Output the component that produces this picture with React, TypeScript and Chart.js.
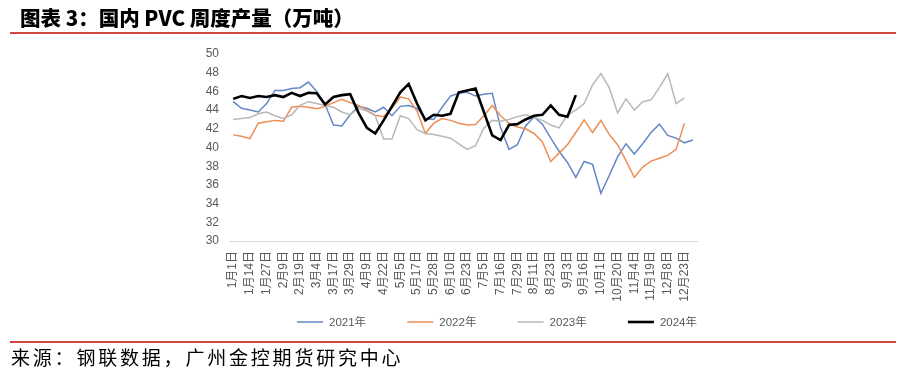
import React, { useEffect, useRef } from "react";
import { Chart, registerables } from "chart.js";

Chart.register(...registerables);

// ---------- data ----------
const tickLabels = [
  "1月1日", "1月14日", "1月27日", "2月9日", "2月19日", "3月4日", "3月17日",
  "3月29日", "4月9日", "4月22日", "5月5日", "5月17日", "5月28日", "6月10日",
  "6月23日", "7月5日", "7月16日", "7月29日", "8月11日", "8月23日", "9月3日",
  "9月16日", "10月1日", "10月20日", "11月4日", "11月19日", "12月8日", "12月23日",
];
// two weekly points per labelled date; only every other category carries a label
const categories: string[] = tickLabels.flatMap((l) => [l, ""]);

const seriesNames = ["2021年", "2022年", "2023年", "2024年"];

const output2021 = [
  44.9, 44.2, 44.0, 43.8, 44.7, 46.1, 46.1, 46.3, 46.4, 47.0,
  46.0, 44.6, 42.4, 42.3, 43.5, 44.4, 44.2, 43.8, 44.3, 43.4,
  44.4, 44.5, 44.2, 43.1, 43.0, 44.3, 45.5, 45.8, 45.9, 45.5,
  45.7, 45.8, 42.1, 39.8, 40.3, 42.3, 43.3, 42.5, 41.0, 39.6,
  38.4, 36.8, 38.5, 38.2, 35.1, 37.0, 39.0, 40.4, 39.3, 40.4,
  41.6, 42.5, 41.3, 41.0, 40.5, 40.8,
];

const output2022 = [
  41.35, 41.2, 40.95, 42.6, 42.75, 42.9, 42.8, 44.3, 44.4, 44.3,
  44.15, 44.4, 44.8, 45.15, 44.8, 44.5, 44.0, 43.45, 43.3, 44.2,
  45.4, 45.2, 43.9, 41.5, 42.6, 43.1, 42.9, 42.6, 42.4, 42.45,
  43.4, 44.5, 43.4, 42.6, 42.2, 42.0, 41.5, 40.6, 38.5, 39.4,
  40.3, 41.6, 42.95, 41.6, 42.9, 41.4, 40.3, 38.6, 36.8, 37.9,
  38.55, 38.85, 39.15, 39.8, 42.6, null,
];

const output2023 = [
  43.0, 43.1, 43.2, 43.6, 43.8, 43.4, 43.1, 43.5, 44.5, 44.9,
  44.7, 44.5, 44.3, 43.8, 43.5, 44.2, 43.9, 43.4, 40.9, 40.9,
  43.4, 43.1, 41.9, 41.5, 41.4, 41.2, 41.0, 40.4, 39.8, 40.2,
  42.1, 42.9, 42.8, 43.0, 43.3, 43.5, 43.2, 42.9, 42.4, 42.1,
  43.5, 44.0, 44.7, 46.7, 47.9, 46.4, 43.7, 45.2, 44.0, 44.9,
  45.1, 46.4, 47.9, 44.7, 45.3, null,
];

const output2024 = [
  45.2, 45.5, 45.3, 45.5, 45.4, 45.6, 45.4, 45.85, 45.5, 45.85,
  45.8, 44.6, 45.4, 45.6, 45.7, 43.7, 42.1, 41.5, 42.9, 44.4,
  45.9, 46.8, 44.7, 42.9, 43.5, 43.4, 43.6, 45.9, 46.1, 46.3,
  43.8, 41.3, 40.8, 42.4, 42.5, 43.0, 43.4, 43.5, 44.5, 43.5,
  43.3, 45.6,
];

const yMin = 30;
const yMax = 50;
const yStep = 2;

// ---------- styles ----------
const FONT = "'Liberation Sans', 'Noto Sans CJK SC', sans-serif";
const CJK = "'Noto Sans CJK SC', sans-serif";
const TEXT_GREY = "#595959";
const RED = "#d2463f";

const lineLegendPlugin = {
  id: "lineLegend",
  afterDraw(chart: any, _args: any, opts: any) {
    const { ctx } = chart;
    ctx.save();
    ctx.font = `${opts.fontSize}px ${FONT}`;
    ctx.textBaseline = "middle";
    ctx.textAlign = "left";
    chart.data.datasets.forEach((ds: any, i: number) => {
      const x = opts.x + i * opts.step;
      ctx.strokeStyle = ds.borderColor;
      ctx.lineWidth = ds.borderWidth;
      ctx.beginPath();
      ctx.moveTo(x, opts.y);
      ctx.lineTo(x + opts.lineLen, opts.y);
      ctx.stroke();
      ctx.fillStyle = TEXT_GREY;
      ctx.fillText(ds.label, x + opts.lineLen + opts.gap, opts.y + 0.5);
    });
    ctx.restore();
  },
};

export default function App() {
  const canvasRef = useRef<HTMLCanvasElement | null>(null);

  useEffect(() => {
    if (!canvasRef.current) return;
    Chart.defaults.font.family = FONT;
    const seriesData = [output2021, output2022, output2023, output2024];
    const colors = ["#6487c6", "#ee8d55", "#b8b8b8", "#000000"];
    const widths = [1.5, 1.5, 1.5, 2.6];
    const chart = new Chart(canvasRef.current, {
      type: "line",
      data: {
        labels: categories,
        datasets: seriesNames.map((name, i) => ({
          label: name,
          data: seriesData[i],
          borderColor: colors[i],
          backgroundColor: colors[i],
          borderWidth: widths[i],
          pointRadius: 0,
          tension: 0,
          fill: false,
          order: 3 - i,
        })),
      },
      options: {
        responsive: false,
        animation: false,
        events: [],
        layout: { padding: { left: 0, right: 904 - 697, top: 54, bottom: 374 - 241 - 70 } },
        plugins: {
          legend: { display: false },
          tooltip: { enabled: false },
          lineLegend: { x: 297, step: 110.3, y: 322, lineLen: 26, gap: 6, fontSize: 11.5 },
        } as any,
        scales: {
          x: {
            type: "category",
            offset: true,
            grid: { display: false, drawTicks: false },
            border: { display: true, color: "#d9d9d9", width: 1 },
            ticks: {
              autoSkip: false,
              maxRotation: 90,
              minRotation: 90,
              padding: 10,
              color: TEXT_GREY,
              font: { size: 12, family: FONT },
            },
            afterFit: (s: any) => {
              s.height = 70;
            },
          },
          y: {
            min: yMin,
            max: yMax,
            ticks: {
              stepSize: yStep,
              padding: 10,
              color: TEXT_GREY,
              font: { size: 12, family: FONT },
            },
            grid: { display: false, drawTicks: false },
            border: { display: false },
            afterFit: (s: any) => {
              s.width = 229;
            },
          },
        },
      },
      plugins: [lineLegendPlugin],
    });
    return () => chart.destroy();
  }, []);

  return (
    <div
      style={{
        position: "absolute",
        left: 0,
        top: 0,
        width: 904,
        height: 374,
        background: "#fff",
        overflow: "hidden",
      }}
    >
      <canvas
        ref={canvasRef}
        width={904}
        height={374}
        style={{ position: "absolute", left: 0, top: 0, width: 904, height: 374 }}
      />
      <div
        style={{
          position: "absolute",
          left: 20,
          top: 7,
          fontFamily: CJK,
          fontWeight: 900,
          fontSize: 20.5,
          lineHeight: "20px",
          color: "#000",
          whiteSpace: "nowrap",
        }}
      >
        图表 3：国内 PVC 周度产量（万吨）
      </div>
      <div style={{ position: "absolute", left: 10, top: 32, width: 886, height: 2, background: RED }} />
      <div style={{ position: "absolute", left: 10, top: 341, width: 886, height: 2, background: RED }} />
      <div
        style={{
          position: "absolute",
          left: 11,
          top: 347,
          fontFamily: CJK,
          fontWeight: 400,
          fontSize: 19,
          lineHeight: "20px",
          letterSpacing: 2.8,
          color: "#000",
          whiteSpace: "nowrap",
        }}
      >
        来源：钢联数据，广州金控期货研究中心
      </div>
    </div>
  );
}
